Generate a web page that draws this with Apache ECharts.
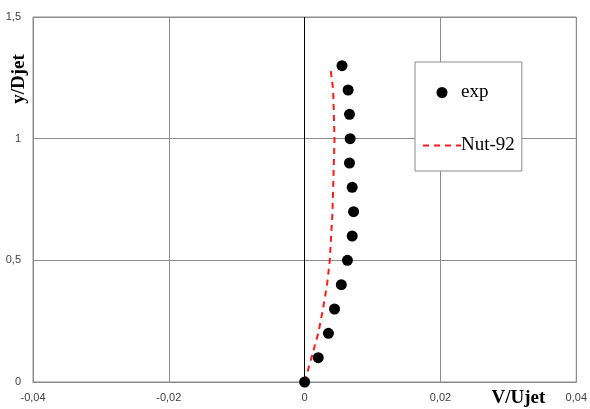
<!DOCTYPE html>
<html>
<head>
<meta charset="utf-8">
<script src="https://cdn.jsdelivr.net/npm/echarts@6/dist/echarts.min.js"></script>
<style>
  html, body { margin: 0; padding: 0; background: #fff; }
  #chart { width: 590px; height: 409px; }
</style>
</head>
<body>
<div id="chart"></div>
<script>
  // experimental points (V/Ujet, y/Djet)
  const expV = [0, 0.0020, 0.0035, 0.0044, 0.0054, 0.0063, 0.0070, 0.0072, 0.0070, 0.0066, 0.0067, 0.0066, 0.0064, 0.0055];
  const expY = [0, 0.1, 0.2, 0.3, 0.4, 0.5, 0.6, 0.7, 0.8, 0.9, 1.0, 1.1, 1.2, 1.3];

  // Nut-92 model curve
  const nutV = [0, 0.0010, 0.0020, 0.0027, 0.0033, 0.0037, 0.0039, 0.0041, 0.0042, 0.0043, 0.0044, 0.0043, 0.0042, 0.0038];
  const nutY = [0, 0.1, 0.2, 0.3, 0.4, 0.5, 0.6, 0.7, 0.8, 0.9, 1.0, 1.1, 1.2, 1.29];

  const fmt = (v) => String(+v.toFixed(2)).replace('.', ',');

  const myChart = echarts.init(document.getElementById('chart'));

  const getOption = () => {
    return {
      animation: false,
      backgroundColor: '#fff',
      grid: {
        left: 33,
        right: 13,
        top: 17,
        bottom: 27,
        show: true,
        borderColor: '#8c8c8c',
        borderWidth: 1,
      },
      legend: {
        orient: 'vertical',
        left: 415,
        top: 62,
        padding: [21, 7, 16, 7],
        itemGap: 34,
        itemWidth: 38,
        itemHeight: 11,
        backgroundColor: '#fff',
        borderColor: '#8c8c8c',
        borderWidth: 1,
        textStyle: {
          fontFamily: 'Liberation Serif',
          fontSize: 19,
          color: '#000',
          padding: [0, 0, 0, -5],
        },
        data: [
          { name: 'exp', icon: 'circle' },
          { name: 'Nut-92', itemStyle: { opacity: 0 } },
        ],
      },
      xAxis: {
        type: 'value',
        min: -0.04,
        max: 0.04,
        interval: 0.02,
        name: 'V/Ujet',
        nameLocation: 'end',
        nameGap: -31,
        nameTextStyle: {
          fontFamily: 'Liberation Serif',
          fontWeight: 'bold',
          fontSize: 19,
          color: '#000',
          align: 'right',
          verticalAlign: 'top',
          padding: [7, 0, 0, 0],
        },
        axisLine: { onZero: false, lineStyle: { color: '#8c8c8c' } },
        axisTick: { show: false },
        axisLabel: {
          margin: 10,
          fontFamily: 'Liberation Sans',
          fontSize: 11,
          color: '#404040',
          formatter: fmt,
        },
        splitLine: { lineStyle: { color: '#8c8c8c' } },
      },
      yAxis: {
        type: 'value',
        min: 0,
        max: 1.5,
        interval: 0.5,
        name: 'y/Djet',
        nameLocation: 'end',
        nameRotate: 90,
        nameGap: -62,
        nameTextStyle: {
          fontFamily: 'Liberation Serif',
          fontWeight: 'bold',
          fontSize: 19,
          color: '#000',
          align: 'center',
          verticalAlign: 'bottom',
          padding: [0, 0, 4, 0],
        },
        axisLine: { show: true, onZero: false, lineStyle: { color: '#8c8c8c' } },
        axisTick: { show: false },
        axisLabel: {
          margin: 12,
          fontFamily: 'Liberation Sans',
          fontSize: 11,
          color: '#404040',
          formatter: fmt,
        },
        splitLine: { lineStyle: { color: '#8c8c8c' } },
      },
      series: [
        {
          name: 'Nut-92',
          type: 'line',
          data: nutV.map((v, i) => [v, nutY[i]]),
          showSymbol: false,
          symbol: 'none',
          itemStyle: { color: '#ff1a1a' },
          lineStyle: { color: '#ff1a1a', width: 2, type: [6, 5] },
          z: 3,
          markLine: {
            silent: true,
            symbol: 'none',
            label: { show: false },
            lineStyle: { color: '#000', width: 1, type: 'solid' },
            data: [{ xAxis: 0 }],
            z: 1,
          },
        },
        {
          name: 'exp',
          type: 'scatter',
          data: expV.map((v, i) => [v, expY[i]]),
          symbol: 'circle',
          symbolSize: 11,
          itemStyle: { color: '#000', opacity: 1 },
          z: 4,
        },
      ],
    };
  };

  myChart.setOption(getOption());
</script>
</body>
</html>
